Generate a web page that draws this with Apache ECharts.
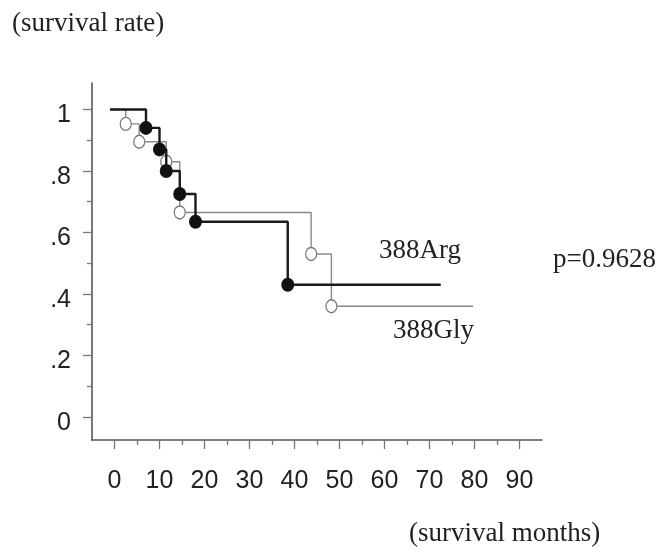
<!DOCTYPE html>
<html>
<head>
<meta charset="utf-8">
<script src="https://cdn.jsdelivr.net/npm/echarts@6/dist/echarts.min.js"></script>
<style>
  html, body { margin: 0; padding: 0; background: #ffffff; }
  #chart { width: 659px; height: 552px; }
</style>
</head>
<body>
<div id="chart"></div>
<script>
// Kaplan-Meier steps: event times (months) and survival after each event
const curveStart = -1;
const argTimes = [7, 10, 11.5, 14.5, 18, 38.5];
const argRates = [0.94, 0.87, 0.80, 0.725, 0.635, 0.43];
const argEnd = 72.5;

const glyTimes = [2.5, 5.5, 11.5, 14.5, 43.7, 48.2];
const glyRates = [0.953, 0.895, 0.83, 0.665, 0.53, 0.36];
const glyEnd = 79.7;

// axis ticks
const xTickValues = [0, 10, 20, 30, 40, 50, 60, 70, 80, 90];
const xTickLabels = ['0', '10', '20', '30', '40', '50', '60', '70', '80', '90'];
const xMinorTicks = [5, 15, 25, 35, 45, 55, 65, 75, 85];
const yTickValues = [0, 0.2, 0.4, 0.6, 0.8, 1];
const yTickLabels = ['0', '.2', '.4', '.6', '.8', '1'];
const yMinorTicks = [0.1, 0.3, 0.5, 0.7, 0.9];

function stepLine(times, rates, end) {
  const pts = [[curveStart, 1]];
  times.forEach((t, i) => pts.push([t, rates[i]]));
  pts.push([end, rates[rates.length - 1]]);
  return pts;
}
function eventPoints(times, rates) {
  return times.map((t, i) => [t, rates[i]]);
}
function labelOf(values, labels) {
  return v => {
    const i = values.findIndex(u => Math.abs(u - v) < 1e-6);
    return i >= 0 ? labels[i] : '';
  };
}

const axisColor = '#555';
const tickFont = { fontFamily: 'Liberation Sans', fontSize: 25, color: '#222' };
const serif = '27px "Liberation Serif"';

const chart = echarts.init(document.getElementById('chart'), null, { renderer: 'canvas' });
chart.setOption({
  animation: false,
  backgroundColor: '#ffffff',
  grid: { left: 92, right: 117, top: 83, bottom: 112 },
  xAxis: [
    {
      type: 'value', min: -5, max: 95, position: 'bottom',
      splitLine: { show: false },
      axisLine: { show: true, onZero: false, lineStyle: { color: axisColor, width: 1.6 } },
      axisTick: { show: true, customValues: xTickValues, length: 9, lineStyle: { color: '#777', width: 1.3 } },
      axisLabel: Object.assign({ customValues: xTickValues, margin: 29, formatter: labelOf(xTickValues, xTickLabels) }, tickFont)
    },
    {
      type: 'value', min: -5, max: 95, position: 'bottom',
      splitLine: { show: false },
      axisLine: { show: false, onZero: false },
      axisTick: { show: true, customValues: xMinorTicks, length: 5, lineStyle: { color: '#777', width: 1.3 } },
      axisLabel: { show: false }
    }
  ],
  yAxis: [
    {
      type: 'value', min: -0.075, max: 1.086, position: 'left',
      splitLine: { show: false },
      axisLine: { show: true, onZero: false, lineStyle: { color: axisColor, width: 1.6 } },
      axisTick: { show: true, customValues: yTickValues, length: 9, lineStyle: { color: '#777', width: 1.3 } },
      axisLabel: Object.assign({ customValues: yTickValues, margin: 21, verticalAlign: 'top', lineHeight: 12, formatter: labelOf(yTickValues, yTickLabels) }, tickFont)
    },
    {
      type: 'value', min: -0.075, max: 1.086, position: 'left',
      splitLine: { show: false },
      axisLine: { show: false, onZero: false },
      axisTick: { show: true, customValues: yMinorTicks, length: 5, lineStyle: { color: '#777', width: 1.3 } },
      axisLabel: { show: false }
    }
  ],
  series: [
    {
      name: '388Gly', type: 'line', step: 'end', showSymbol: false,
      data: stepLine(glyTimes, glyRates, glyEnd),
      lineStyle: { color: '#8a8a8a', width: 1.4 }, z: 2
    },
    {
      name: '388Gly events', type: 'scatter', symbol: 'circle', symbolSize: [11, 13],
      data: eventPoints(glyTimes, glyRates),
      itemStyle: { color: '#ffffff', borderColor: '#7a7a7a', borderWidth: 1.3, opacity: 1 }, z: 3
    },
    {
      name: '388Arg', type: 'line', step: 'end', showSymbol: false,
      data: stepLine(argTimes, argRates, argEnd),
      lineStyle: { color: '#1a1a1a', width: 2.4 }, z: 4
    },
    {
      name: '388Arg events', type: 'scatter', symbol: 'circle', symbolSize: [13, 14],
      data: eventPoints(argTimes, argRates),
      itemStyle: { color: '#111111', opacity: 1 }, z: 5
    }
  ],
  graphic: [
    { type: 'text', style: { x: 12, y: 24, text: '(survival rate)', font: serif, fill: '#222', verticalAlign: 'middle' } },
    { type: 'text', style: { x: 379, y: 251, text: '388Arg', font: serif, fill: '#222', verticalAlign: 'middle' } },
    { type: 'text', style: { x: 393, y: 331, text: '388Gly', font: serif, fill: '#222', verticalAlign: 'middle' } },
    { type: 'text', style: { x: 553, y: 260, text: 'p=0.9628', font: serif, fill: '#222', verticalAlign: 'middle' } },
    { type: 'text', style: { x: 409, y: 534, text: '(survival months)', font: serif, fill: '#222', verticalAlign: 'middle' } }
  ]
});
</script>
</body>
</html>
